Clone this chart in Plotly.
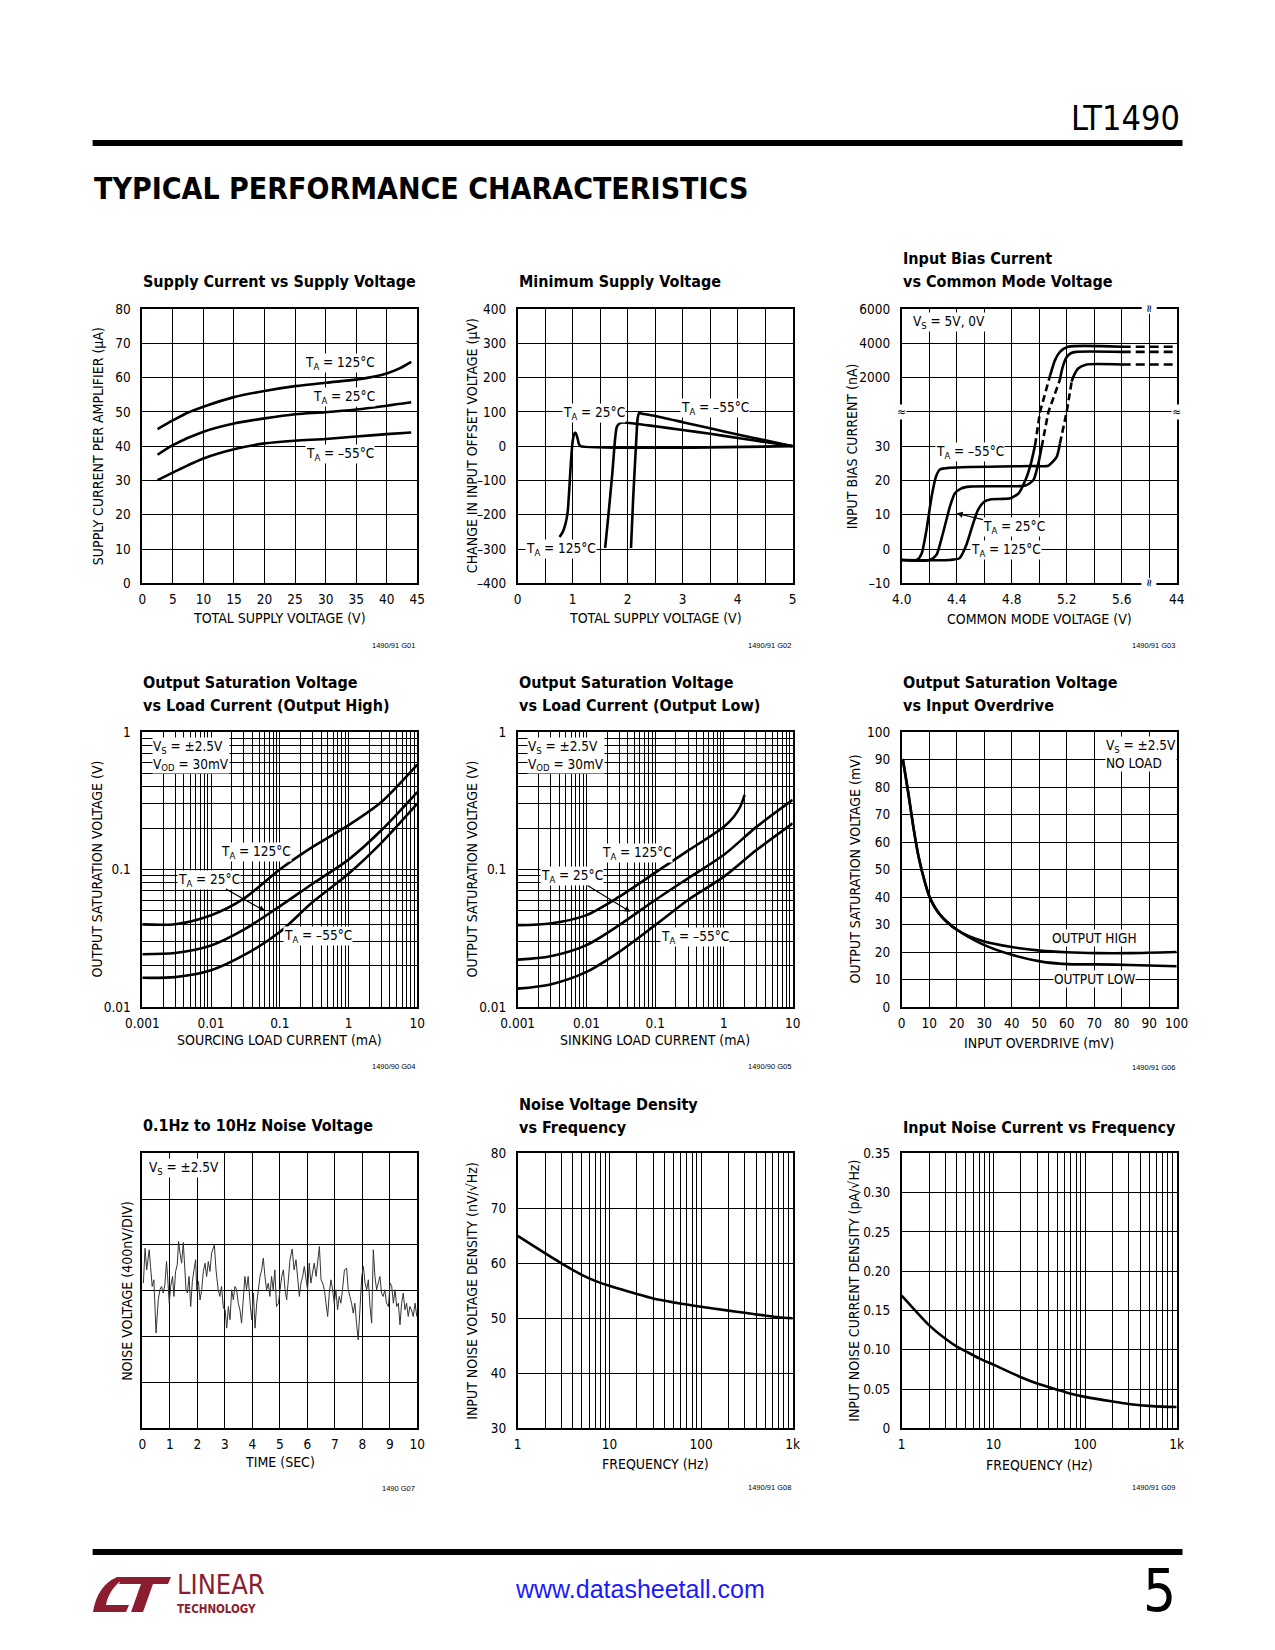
import plotly.graph_objects as go

# ---------------- DATA ----------------
# G01 Supply current vs supply voltage
sc_v125 = [2.5, 5, 7.5, 10, 15, 20, 25, 30, 35, 38, 40, 42, 44]
sc_i125 = [45, 47.5, 49.8, 51.5, 54.3, 56.1, 57.5, 58.5, 59.4, 60.3, 61.2, 62.6, 64.6]
sc_v = [2.5, 5, 10, 15, 20, 25, 30, 35, 40, 44]
sc_i25 = [37.5, 40.3, 44.2, 46.6, 48.1, 49.3, 49.9, 50.7, 51.8, 52.8]
sc_im55 = [30.1, 32.3, 36.4, 39.1, 40.8, 41.6, 42.1, 42.8, 43.5, 44.0]

# G02 Minimum supply voltage
ms_v125 = [0.76, 0.82, 0.87, 0.91, 0.94, 0.97, 1.0, 1.03, 1.05, 1.08, 1.11, 1.14, 5.0]
ms_d125 = [-265, -250, -226, -190, -120, -40, 15, 37, 39, 28, 8, 0, 0]
ms_v25 = [1.59, 1.65, 1.72, 1.77, 1.80, 1.85, 1.92, 2.5, 3, 3.5, 4, 4.5, 5]
ms_d25 = [-297, -200, -80, 20, 55, 66, 69, 58, 47, 36, 24, 12, 0]
ms_vm55 = [2.06, 2.1, 2.15, 2.18, 2.21, 2.25, 2.5, 3, 3.5, 4, 4.5, 5]
ms_dm55 = [-297, -150, 0, 80, 97, 95, 88, 70, 52, 34, 17, 0]

# G03 Input bias current vs common mode voltage (nA)
ib125_x = [4.0, 4.35, 4.42, 4.47, 4.52, 4.555, 4.60, 4.65, 4.72, 4.79, 4.85, 4.90, 4.94, 4.97]
ib125_y = [-3.2, -3.2, -2.7, 1.2, 7.5, 11.4, 13.8, 14.5, 14.6, 14.8, 16.2, 20.1, 25, 30.3]
ib125_dx = [4.97, 5.006, 5.08]
ib125_dy = [30.3, 40, 2140]
ib125_ux = [5.08, 5.115, 5.151, 5.21, 5.6]
ib125_uy = [2140, 3020, 3500, 3800, 3800]
ib25_x = [4.0, 4.205, 4.253, 4.30, 4.35, 4.386, 4.434, 4.495, 4.70, 4.90, 4.958, 4.994, 5.018]
ib25_y = [-3.2, -3.2, -1.7, 4.6, 12.3, 16.2, 17.7, 18.2, 18.3, 18.5, 20.1, 25, 29.8]
ib25_dx = [5.018, 5.067, 5.15]
ib25_dy = [29.8, 40, 1860]
ib25_ux = [5.15, 5.17, 5.2, 5.23, 5.27, 5.6]
ib25_uy = [1860, 2600, 3200, 3420, 3500, 3500]
ibm55_x = [4.0, 4.11, 4.145, 4.18, 4.217, 4.249, 4.278, 4.35, 4.93, 5.066, 5.127, 5.151]
ibm55_y = [-3.2, -3.2, -1.3, 5.5, 15.2, 21.1, 23.2, 23.7, 24.2, 24.3, 26.9, 30.8]
ibm55_dx = [5.151, 5.2, 5.236]
ibm55_dy = [30.8, 40, 1760]
ibm55_ux = [5.236, 5.248, 5.285, 5.345, 5.6]
ibm55_uy = [1760, 2040, 2540, 2760, 2760]
ib_ext_x = [5.6, 44]
ib_ext125 = [3800, 3800]
ib_ext25 = [3500, 3500]
ib_extm55 = [2760, 2760]

# G04 Output saturation (output high), V vs mA
osh_i = [0.001, 0.003, 0.01, 0.03, 0.1, 0.3, 1, 3, 10]
osh_125 = [0.0399, 0.040, 0.0465, 0.0614, 0.100, 0.146, 0.21, 0.31, 0.58]
osh_25 = [0.0242, 0.0247, 0.028, 0.0365, 0.054, 0.0788, 0.118, 0.193, 0.366]
osh_m55 = [0.0163, 0.0165, 0.0185, 0.0238, 0.0351, 0.058, 0.093, 0.156, 0.301]

# G05 Output saturation (output low)
osl_i125 = [0.001, 0.003, 0.01, 0.03, 0.1, 0.3, 1, 1.4, 1.73, 2.0]
osl_125 = [0.0394, 0.0405, 0.0466, 0.0634, 0.0948, 0.137, 0.205, 0.243, 0.287, 0.349]
osl_i = [0.001, 0.003, 0.01, 0.03, 0.1, 0.3, 1, 3, 10]
osl_25 = [0.0221, 0.0234, 0.0282, 0.0394, 0.06, 0.0863, 0.128, 0.205, 0.321]
osl_m55 = [0.0136, 0.0146, 0.018, 0.0252, 0.0394, 0.06, 0.0887, 0.139, 0.217]

# G06 Output saturation vs input overdrive (mV)
od_x = [0.4, 2.4, 4.2, 6.1, 8.5, 10.3, 13.9, 20, 29.7, 40, 50.3, 60, 70.9, 83, 100]
od_high = [90.2, 77.8, 65.7, 54.8, 45.1, 39.6, 33.6, 28.1, 23.9, 21.8, 20.5, 19.9, 19.6, 19.6, 20.0]
od_low = [90.2, 77.8, 65.7, 54.8, 45.1, 39.6, 33.6, 28.2, 22.7, 19.0, 16.6, 15.6, 15.5, 15.3, 14.8]

# G07 0.1Hz to 10Hz noise (time s, nV)
nz_t = [0.04, 0.10, 0.16, 0.25, 0.30, 0.36, 0.42, 0.50, 0.58, 0.64, 0.70, 0.76, 0.82, 0.88, 0.92, 0.98,
        1.03, 1.10, 1.15, 1.21, 1.27, 1.32, 1.37, 1.43, 1.49, 1.53, 1.59, 1.64, 1.70, 1.76, 1.82, 1.88,
        1.94, 1.98, 2.04, 2.10, 2.16, 2.22, 2.28, 2.34, 2.40, 2.46, 2.52, 2.62, 2.68, 2.76, 2.82, 2.88,
        2.95, 3.01, 3.07, 3.13, 3.19, 3.25, 3.31, 3.37, 3.43, 3.49, 3.55, 3.61, 3.67, 3.73, 3.79, 3.85,
        3.92, 3.98, 4.04, 4.10, 4.16, 4.22, 4.28, 4.34, 4.40, 4.46, 4.52, 4.58, 4.64, 4.70, 4.76, 4.82,
        4.88, 4.95, 5.01, 5.07, 5.13, 5.19, 5.25, 5.31, 5.37, 5.45, 5.52, 5.59, 5.65, 5.71, 5.77, 5.83,
        5.89, 5.95, 6.01, 6.07, 6.13, 6.19, 6.25, 6.32, 6.38, 6.44, 6.50, 6.56, 6.62, 6.68, 6.74, 6.80,
        6.86, 6.92, 6.98, 7.04, 7.10, 7.16, 7.22, 7.28, 7.35, 7.43, 7.49, 7.55, 7.61, 7.67, 7.73, 7.79,
        7.85, 7.92, 7.98, 8.04, 8.10, 8.16, 8.22, 8.28, 8.34, 8.40, 8.46, 8.52, 8.58, 8.64, 8.70, 8.76,
        8.82, 8.88, 8.95, 9.01, 9.07, 9.13, 9.19, 9.25, 9.31, 9.37, 9.43, 9.49, 9.55, 9.61, 9.67, 9.73,
        9.79, 9.85, 9.92, 9.98]
nz_v = [67, 372, 183, 358, 212, 38, 96, -369, -79, 9, 38, -20, 52, 256, 125, -108,
        38, 125, -49, 169, 227, 431, 329, 241, 422, 212, 9, -20, 125, -137, 81, 183,
        271, 9, 81, -79, 9, 169, 241, 125, 256, 169, 329, 401, 183, 9, -49, 38,
        -151, -166, -326, -137, -253, 9, -79, 38, 9, -108, -166, -282, -49, 125, 9, 125,
        -108, -253, -20, -326, -108, 38, 125, 183, 285, 125, 9, 67, -49, 125, 9, 183,
        -137, -108, 9, 125, 183, 9, -79, 125, 271, 364, 183, 271, 125, -49, 67, 125,
        212, 125, 9, 241, 67, 154, 241, 125, 241, 387, 96, 67, 9, -108, -224, -20,
        96, 9, -108, 9, -166, -49, -108, 9, 183, 198, 9, -49, -108, -195, -108, -282,
        -428, -137, 125, 212, 67, 9, 96, -137, -282, 358, 125, 9, 67, 125, -20, -49,
        9, -108, -137, 67, 38, -108, 9, -137, -108, -297, -108, -20, -166, -108, -224, -137,
        -166, -224, -108, -224]

# G08 Noise voltage density
nd_f = [1, 2, 3, 5, 7, 10, 20, 30, 50, 70, 100, 200, 300, 500, 700, 1000]
nd_v = [65.0, 61.8, 60.0, 57.9, 56.8, 55.9, 54.4, 53.6, 52.9, 52.5, 52.1, 51.4, 51.0, 50.5, 50.2, 50.0]

# G09 Input noise current density
nc_f = [1, 2, 3, 4, 5, 7, 10, 20, 30, 50, 70, 100, 200, 300, 500, 700, 1000]
nc_i = [0.169, 0.131, 0.114, 0.104, 0.098, 0.089, 0.081, 0.065, 0.057, 0.049, 0.044, 0.040, 0.034,
        0.031, 0.0286, 0.0276, 0.0271]

# ---------------- LAYOUT HELPERS ----------------
OFF = 8                      # default body margin of the html page
FW, FH = 1275 - 2 * OFF, 1650 - 2 * OFF
NARROW = "DejaVu Sans Condensed, Liberation Sans Narrow, Liberation Sans, sans-serif"
cols = [(142.3, 417.3), (517.7, 792.7), (901.7, 1176.7)]
rows = [(309.0, 583.3), (732.0, 1007.0), (1153.3, 1428.3)]
F_TICK, F_AX, F_LAB, F_TTL = 13.5, 14, 13.5, 16


def fx(x):
    return (x - OFF) / FW


def fy(y):
    return 1 - (y - OFF) / FH


def xr(i):
    return 'x' if i == 1 else f'x{i}'


def yr(i):
    return 'y' if i == 1 else f'y{i}'


fig = go.Figure()
ann = []
shapes = []


def axis(**kw):
    d = dict(showline=True, mirror=True, linecolor='black', linewidth=1.6,
             showgrid=True, gridcolor='black', gridwidth=1.1, zeroline=False,
             ticks='', tickfont=dict(family=NARROW, size=F_TICK, color='black'),
             fixedrange=True, automargin=False)
    d.update(kw)
    return d


def set_axes(i, xa, ya):
    r, c = divmod(i - 1, 3)
    x0, x1 = cols[c]
    y0, y1 = rows[r]
    xa['domain'] = [fx(x0), fx(x1)]
    ya['domain'] = [fy(y1), fy(y0)]
    xa['anchor'] = yr(i)
    ya['anchor'] = xr(i)
    xa.setdefault('ticklabelstandoff', 3)
    ya.setdefault('ticklabelstandoff', 7)
    fig.layout['xaxis' if i == 1 else f'xaxis{i}'] = xa
    fig.layout['yaxis' if i == 1 else f'yaxis{i}'] = ya


def line(i, x, y, width=2.6, shape='spline', dash='solid', color='black', smooth=0.8):
    ln = dict(color=color, width=width, dash=dash, shape=shape)
    if shape == 'spline':
        ln['smoothing'] = smooth
    fig.add_trace(go.Scatter(x=x, y=y, mode='lines', line=ln, xaxis=xr(i), yaxis=yr(i),
                             showlegend=False, hoverinfo='skip'))


def lab(i, x, y, text, size=F_LAB, xanchor='center', bg='white', **kw):
    d = dict(xref=xr(i), yref=yr(i), x=x, y=y, text=text, showarrow=False,
             font=dict(family=NARROW, size=size, color='black'), bgcolor=bg,
             borderpad=0, xanchor=xanchor, yanchor='middle', align='left')
    d.update(kw)
    ann.append(d)


def ptext(x, y, text, size, xanchor='left', yanchor='middle', angle=0, weight='normal',
          color='black', family=NARROW):
    ann.append(dict(xref='paper', yref='paper', x=fx(x), y=fy(y), text=text, showarrow=False,
                    font=dict(family=family, size=size, color=color, weight=weight),
                    xanchor=xanchor, yanchor=yanchor, textangle=angle))


def logticks(e0, e1, names):
    vals, txt = [], []
    for e in range(e0, e1):
        for m in range(1, 10):
            vals.append(m * 10 ** e)
            txt.append(names.get(e, '') if m == 1 else '')
    vals.append(10 ** e1)
    txt.append(names.get(e1, ''))
    return vals, txt


def xtitle(i, y, text):
    c = (i - 1) % 3
    ptext((cols[c][0] + cols[c][1]) / 2, y, text, F_AX, xanchor='center')


def ytitle(i, x, text):
    r = (i - 1) // 3
    ptext(x, (rows[r][0] + rows[r][1]) / 2, text, F_AX, xanchor='center', angle=-90)


def title(i, lines):
    c = (i - 1) % 3
    for txt, y in lines:
        ptext(cols[c][0] - 1, y, txt, F_TTL, weight='bold')


def foot(i, y, text):
    c = (i - 1) % 3
    ptext(cols[c][1], y, text, 7.5, xanchor='right', family='Liberation Sans, Arial, sans-serif')


def arrow_label(i, hx, hy, tx_, ty_, text):
    ann.append(dict(xref=xr(i), yref=yr(i), x=hx, y=hy, axref=xr(i), ayref=yr(i), ax=tx_, ay=ty_,
                    text=text, showarrow=True, arrowhead=2, arrowsize=1, arrowwidth=1.2,
                    arrowcolor='black', bgcolor='white', borderpad=0,
                    font=dict(family=NARROW, size=F_LAB, color='black')))


TA = 'T<sub>A</sub> = '

# ---------------- G01 ----------------
set_axes(1, axis(range=[0, 45], dtick=5, tick0=0),
         axis(range=[0, 80], dtick=10, tick0=0))
line(1, sc_v125, sc_i125)
line(1, sc_v, sc_i25)
line(1, sc_v, sc_im55)
lab(1, 32.4, 64.2, TA + '125°C')
lab(1, 33.0, 54.2, TA + '25°C')
lab(1, 32.4, 37.7, TA + '–55°C')
title(1, [('Supply Current vs Supply Voltage', 282)])
xtitle(1, 618, 'TOTAL SUPPLY VOLTAGE (V)')
ytitle(1, 98, 'SUPPLY CURRENT PER AMPLIFIER (µA)')
foot(1, 645, '1490/91 G01')

# ---------------- G02 ----------------
x2v = [k * 0.5 for k in range(11)]
x2t = [str(int(v)) if v == int(v) else '' for v in x2v]
y2v = list(range(-400, 401, 100))
y2t = [(('–' + str(-v)) if v < 0 else str(v)) for v in y2v]
set_axes(2, axis(range=[0, 5], tickvals=x2v, ticktext=x2t),
         axis(range=[-400, 400], tickvals=y2v, ticktext=y2t))
line(2, ms_v125, ms_d125, smooth=0.5)
line(2, ms_v25, ms_d25, smooth=0.5)
line(2, ms_vm55, ms_dm55, smooth=0.5)
lab(2, 1.39, 98, TA + '25°C')
lab(2, 3.58, 112, TA + '–55°C')
lab(2, 0.79, -300, TA + '125°C')
title(2, [('Minimum Supply Voltage', 282)])
xtitle(2, 618, 'TOTAL SUPPLY VOLTAGE (V)')
ytitle(2, 472, 'CHANGE IN INPUT OFFSET VOLTAGE (µV)')
foot(2, 645, '1490/91 G02')


# ---------------- G03 (broken axes) ----------------
def cx(v):
    return v if v <= 5.8 else 6.0


def cy(v):
    return (v + 10) / 10 if v <= 40 else 5 + v / 2000


def tx(vs):
    return [cx(v) for v in vs]


def ty(vs):
    return [cy(v) for v in vs]


x3v = [round(4.0 + 0.2 * k, 1) for k in range(11)]
x3t = ['4.0', '', '4.4', '', '4.8', '', '5.2', '', '5.6', '', '44']
y3v = list(range(9))
y3t = ['–10', '0', '10', '20', '30', '', '2000', '4000', '6000']
set_axes(3, axis(range=[4.0, 6.0], tickvals=x3v, ticktext=x3t),
         axis(range=[0, 8], tickvals=y3v, ticktext=y3t))
for (lx, ly, dx, dy, ux, uy, ey) in [
        (ib125_x, ib125_y, ib125_dx, ib125_dy, ib125_ux, ib125_uy, ib_ext125),
        (ib25_x, ib25_y, ib25_dx, ib25_dy, ib25_ux, ib25_uy, ib_ext25),
        (ibm55_x, ibm55_y, ibm55_dx, ibm55_dy, ibm55_ux, ibm55_uy, ib_extm55)]:
    line(3, tx(lx), ty(ly), smooth=0.6)
    line(3, tx(dx), ty(dy), shape='linear', dash='7px,4px')
    line(3, tx(ux), ty(uy), smooth=0.6)
    line(3, tx(ib_ext_x), ty(ey), shape='linear', dash='9px,5px')
lab(3, 4.075, 7.62, 'V<sub>S</sub> = 5V, 0V', xanchor='left')
lab(3, 4.5, 3.83, TA + '–55°C')
arrow_label(3, 4.4, 2.04, 4.82, 1.64, TA + '25°C')
lab(3, 4.76, 0.97, TA + '125°C')
for (bx, by, ang) in [(5.8, 8, -90), (5.8, 0, -90), (4.0, 5, 0), (6.0, 5, 0)]:
    ann.append(dict(xref='x3', yref='y3', x=bx, y=by, text='≈', showarrow=False, textangle=ang,
                    font=dict(family=NARROW, size=12, color='black'), bgcolor='white', borderpad=0))
title(3, [('Input Bias Current', 259), ('vs Common Mode Voltage', 282)])
xtitle(3, 619, 'COMMON MODE VOLTAGE (V)')
ytitle(3, 852, 'INPUT BIAS CURRENT (nA)')
foot(3, 645, '1490/91 G03')

# ---------------- G04 ----------------
x4v, x4t = logticks(-3, 1, {-3: '0.001', -2: '0.01', -1: '0.1', 0: '1', 1: '10'})
y4v, y4t = logticks(-2, 0, {-2: '0.01', -1: '0.1', 0: '1'})
set_axes(4, axis(type='log', range=[-3, 1], tickvals=x4v, ticktext=x4t),
         axis(type='log', range=[-2, 0], tickvals=y4v, ticktext=y4t))
line(4, osh_i, osh_125)
line(4, osh_i, osh_25)
line(4, osh_i, osh_m55)
lab(4, -2.86, -0.17, 'V<sub>S</sub> = ±2.5V<br>V<sub>OD</sub> = 30mV', xanchor='left')
lab(4, -1.346, -0.873, TA + '125°C')
arrow_label(4, -1.215, -1.302, -2.03, -1.073, TA + '25°C')
lab(4, -0.444, -1.486, TA + '–55°C')
title(4, [('Output Saturation Voltage', 682), ('vs Load Current (Output High)', 705)])
xtitle(4, 1040, 'SOURCING LOAD CURRENT (mA)')
ytitle(4, 97, 'OUTPUT SATURATION VOLTAGE (V)')
foot(4, 1066, '1490/90 G04')

# ---------------- G05 ----------------
set_axes(5, axis(type='log', range=[-3, 1], tickvals=x4v, ticktext=x4t),
         axis(type='log', range=[-2, 0], tickvals=y4v, ticktext=y4t))
line(5, osl_i125, osl_125)
line(5, osl_i, osl_25)
line(5, osl_i, osl_m55)
lab(5, -2.865, -0.17, 'V<sub>S</sub> = ±2.5V<br>V<sub>OD</sub> = 30mV', xanchor='left')
lab(5, -1.263, -0.878, TA + '125°C')
arrow_label(5, -1.361, -1.308, -2.209, -1.047, TA + '25°C')
lab(5, -0.415, -1.494, TA + '–55°C')
title(5, [('Output Saturation Voltage', 682), ('vs Load Current (Output Low)', 705)])
xtitle(5, 1040, 'SINKING LOAD CURRENT (mA)')
ytitle(5, 472, 'OUTPUT SATURATION VOLTAGE (V)')
foot(5, 1066, '1490/90 G05')

# ---------------- G06 ----------------
set_axes(6, axis(range=[0, 100], dtick=10, tick0=0),
         axis(range=[0, 100], dtick=10, tick0=0))
line(6, od_x, od_high)
line(6, od_x, od_low)
lab(6, 73.9, 92.0, 'V<sub>S</sub> = ±2.5V<br>NO LOAD', xanchor='left')
lab(6, 70, 25.1, 'OUTPUT HIGH')
lab(6, 70, 10.3, 'OUTPUT LOW')
title(6, [('Output Saturation Voltage', 682), ('vs Input Overdrive', 705)])
xtitle(6, 1043, 'INPUT OVERDRIVE (mV)')
ytitle(6, 855, 'OUTPUT SATURATION VOLTAGE (mV)')
foot(6, 1067, '1490/91 G06')

# ---------------- G07 ----------------
set_axes(7, axis(range=[0, 10], dtick=1, tick0=0),
         axis(range=[-1200, 1200], tickvals=[-1200, -800, -400, 0, 400, 800, 1200], showticklabels=False))
line(7, nz_t, nz_v, width=1.0, shape='linear', color='#333333')
lab(7, 0.2, 1072, 'V<sub>S</sub> = ±2.5V', xanchor='left')
title(7, [('0.1Hz to 10Hz Noise Voltage', 1125)])
xtitle(7, 1462, 'TIME (SEC)')
ytitle(7, 127, 'NOISE VOLTAGE (400nV/DIV)')
foot(7, 1488, '1490 G07')

# ---------------- G08 ----------------
x8v, x8t = logticks(0, 3, {0: '1', 1: '10', 2: '100', 3: '1k'})
set_axes(8, axis(type='log', range=[0, 3], tickvals=x8v, ticktext=x8t),
         axis(range=[30, 80], dtick=10, tick0=30))
line(8, nd_f, nd_v, smooth=0.6)
title(8, [('Noise Voltage Density', 1104), ('vs Frequency', 1127)])
xtitle(8, 1464, 'FREQUENCY (Hz)')
ytitle(8, 472, 'INPUT NOISE VOLTAGE DENSITY (nV/√Hz)')
foot(8, 1487, '1490/91 G08')

# ---------------- G09 ----------------
y9v = [0, 0.05, 0.10, 0.15, 0.20, 0.25, 0.30, 0.35]
y9t = ['0', '0.05', '0.10', '0.15', '0.20', '0.25', '0.30', '0.35']
set_axes(9, axis(type='log', range=[0, 3], tickvals=x8v, ticktext=x8t),
         axis(range=[0, 0.35], tickvals=y9v, ticktext=y9t))
line(9, nc_f, nc_i, smooth=0.6)
title(9, [('Input Noise Current vs Frequency', 1127)])
xtitle(9, 1465, 'FREQUENCY (Hz)')
ytitle(9, 854, 'INPUT NOISE CURRENT DENSITY (pA/√Hz)')
foot(9, 1487, '1490/91 G09')

# ---------------- PAGE DECORATION ----------------
ptext(1182, 118, 'LT1490', 34, xanchor='right')
ptext(92, 188, 'TYPICAL PERFORMANCE CHARACTERISTICS', 30, weight='bold')
shapes.append(dict(type='rect', xref='paper', yref='paper', x0=fx(92.6), x1=fx(1182.5),
                   y0=fy(146), y1=fy(140), fillcolor='black', line=dict(width=0)))
shapes.append(dict(type='rect', xref='paper', yref='paper', x0=fx(92.6), x1=fx(1182.5),
                   y0=fy(1555), y1=fy(1549), fillcolor='black', line=dict(width=0)))


def pth(cmds):
    s = []
    for c in cmds:
        if c == 'Z':
            s.append('Z')
            continue
        op = c[0]
        s.append(op + ' ' + ' '.join(f'{fx(x):.5f},{fy(y):.5f}' for x, y in c[1:]))
    return ' '.join(s)


LOGO = '#8c1d2f'
shapes.append(dict(type='path', xref='paper', yref='paper', fillcolor=LOGO, line=dict(width=0),
                   path=pth([('M', (93, 1612)), ('Q', (97, 1586), (117, 1577)), ('L', (126, 1577)),
                             ('Q', (109, 1588), (106, 1605)), ('L', (129, 1605)), ('L', (126, 1612)), 'Z'])))
shapes.append(dict(type='path', xref='paper', yref='paper', fillcolor=LOGO, line=dict(width=0),
                   path=pth([('M', (122, 1577)), ('L', (171, 1577)), ('L', (168, 1584)), ('L', (153, 1584)),
                             ('L', (143, 1612)), ('L', (131, 1612)), ('L', (141, 1584)), ('L', (119, 1584)), 'Z'])))
ptext(175, 1584, 'LINEAR', 27, color=LOGO)
ptext(175, 1609, 'TECHNOLOGY', 11.5, color=LOGO, weight='bold')
ptext(640, 1589, 'www.datasheetall.com', 25, xanchor='center', color='#1a1aff',
      family='Liberation Sans, Arial, sans-serif')
ptext(1178, 1591, '5', 58, xanchor='right')

fig.update_layout(width=FW, height=FH, autosize=False,
                  margin=dict(l=0, r=0, t=0, b=0, pad=0, autoexpand=False),
                  paper_bgcolor='white', plot_bgcolor='white', showlegend=False,
                  annotations=ann, shapes=shapes)
fig.write_html('out.html', config={'responsive': False})
